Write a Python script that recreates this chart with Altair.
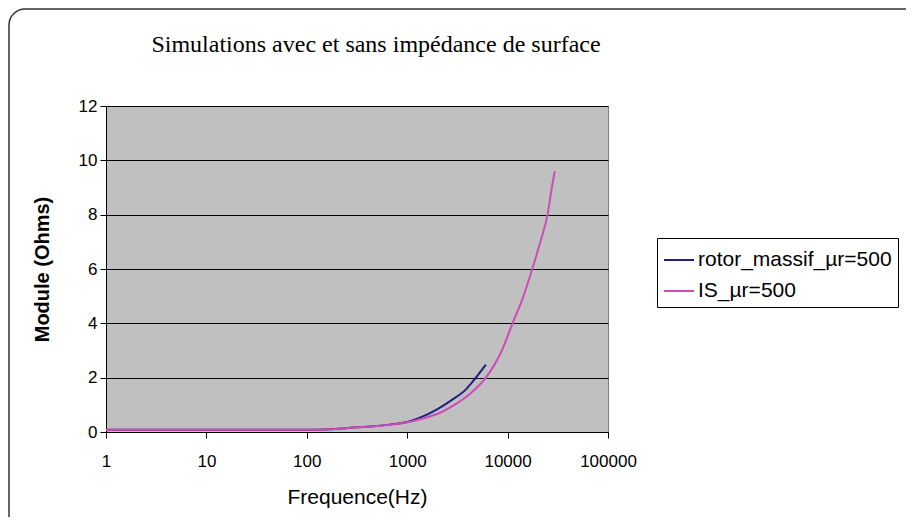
import altair as alt
import pandas as pd

title_text = "Simulations avec et sans impédance de surface"
series_names = ["rotor_massif_µr=500", "IS_µr=500"]
series_colors = ["#1F2080", "#CC4CB8"]

freq_rotor = [1, 10, 100, 170, 260, 460, 720, 1000, 1570, 2005, 2790, 3870, 4550, 6070]
mod_rotor = [0.08, 0.08, 0.08, 0.10, 0.15, 0.21, 0.29, 0.37, 0.64, 0.84, 1.18, 1.58, 1.88, 2.48]

freq_is = [1, 10, 100, 170, 260, 460, 720, 1000, 1440, 2100, 2900, 4200, 6070,
           8770, 11200, 14400, 17600, 21200, 25000, 27600, 29500]
mod_is = [0.08, 0.08, 0.08, 0.10, 0.15, 0.21, 0.28, 0.36, 0.50, 0.70, 0.98, 1.40, 2.00,
          3.00, 4.00, 5.00, 6.00, 7.00, 8.00, 9.00, 9.60]

x_ticks = [1, 10, 100, 1000, 10000, 100000]
y_ticks = [0, 2, 4, 6, 8, 10, 12]

df = pd.concat([
    pd.DataFrame({"f": freq_rotor, "m": mod_rotor, "s": series_names[0]}),
    pd.DataFrame({"f": freq_is, "m": mod_is, "s": series_names[1]}),
])

W, H = 502, 326
FONT = "Liberation Sans"

color = alt.Color(
    "s:N",
    scale=alt.Scale(domain=series_names, range=series_colors),
    legend=alt.Legend(
        title=None, orient="none", legendX=551, legendY=132,
        symbolType="stroke", symbolSize=900, symbolStrokeWidth=2,
        labelFont=FONT, labelFontSize=21, labelColor="black", labelOffset=3,
        rowPadding=5, padding=6, strokeColor="black", fillColor="white",
        labelLimit=400,
    ),
)

x = alt.X(
    "f:Q",
    scale=alt.Scale(type="log", domain=[1, 100000]),
    axis=alt.Axis(
        values=x_ticks, format="d", grid=False, title="Frequence(Hz)",
        titleFont=FONT, titleFontSize=21, titleFontWeight="normal", titleColor="black",
        titleX=251, titleY=65, titleBaseline="middle", titleAlign="center",
        labelFont=FONT, labelFontSize=17, labelColor="black", labelPadding=15,
        tickSize=6, tickColor="black", domainColor="black", labelFlush=False,
    ),
)
y = alt.Y(
    "m:Q",
    scale=alt.Scale(domain=[0, 12]),
    axis=alt.Axis(
        values=y_ticks, grid=True, gridColor="black", gridWidth=1,
        title="Module (Ohms)", titleFont=FONT, titleFontSize=20, titleFontWeight="bold",
        titleColor="black", titleX=-64, titleY=163, titleBaseline="middle", titleAlign="center",
        labelFont=FONT, labelFontSize=17, labelColor="black", labelPadding=3,
        tickSize=6, tickColor="black", domainColor="black",
    ),
)

base = alt.Chart(df)
line_rotor = base.transform_filter(alt.datum.s == series_names[0]).mark_line(
    strokeWidth=2, interpolate="monotone").encode(x=x, y=y, color=color)
line_is = base.transform_filter(alt.datum.s == series_names[1]).mark_line(
    strokeWidth=2, interpolate="monotone").encode(x=x, y=y, color=color)

one = pd.DataFrame({"k": [0]})
border = alt.Chart(one).mark_rect(
    filled=False, stroke="#333333", strokeWidth=1.5, cornerRadius=16, clip=False
).encode(x=alt.value(-97), x2=alt.value(840), y=alt.value(-97), y2=alt.value(430))

title = alt.Chart(one).mark_text(
    text=title_text, font="Liberation Serif", fontSize=24, color="black",
    align="center", baseline="middle", clip=False
).encode(x=alt.value(270), y=alt.value(-61))

chart = alt.layer(border, title, line_rotor, line_is).properties(
    width=W, height=H,
    background="white",
    autosize=alt.AutoSizeParams(type="none"),
    padding={"left": 98, "top": 98, "right": 298, "bottom": 85},
).configure_view(fill="#C0C0C0", stroke="#808080")

chart.save("out.html", embed_options={"renderer": "svg", "actions": False})
